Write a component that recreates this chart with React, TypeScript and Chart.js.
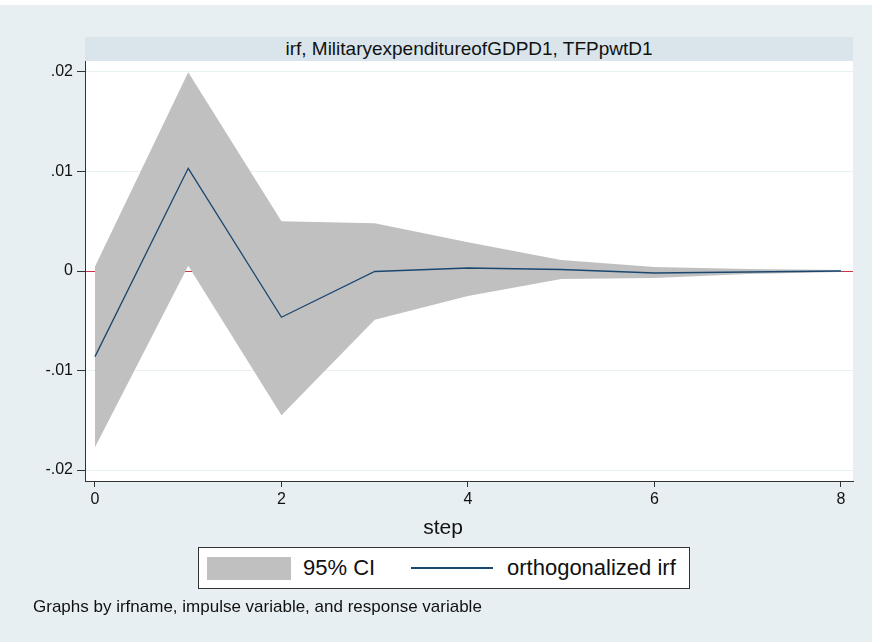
import React, { useEffect, useRef } from "react";
import { Chart, registerables } from "chart.js";

Chart.register(...registerables);

// ---- data ----
const steps = [0, 1, 2, 3, 4, 5, 6, 7, 8];
const irf = [-0.0086, 0.01032, -0.00465, -0.00005, 0.0003, 0.00015, -0.0002, -0.0001, 0.0];
const ciUpper = [0.00045, 0.01996, 0.0050, 0.0048, 0.0029, 0.0011, 0.0004, 0.0002, 0.0001];
const ciLower = [-0.01772, 0.00052, -0.0145, -0.0049, -0.0025, -0.0008, -0.0007, -0.0003, -0.0001];

const xTicks = [0, 2, 4, 6, 8];
const yTicks = [-0.02, -0.01, 0, 0.01, 0.02];
const yTickLabels = ["-.02", "-.01", "0", ".01", ".02"];

const panelTitle = "irf, MilitaryexpenditureofGDPD1, TFPpwtD1";
const xTitle = "step";
const legendCI = "95% CI";
const legendIrf = "orthogonalized irf";
const note = "Graphs by irfname, impulse variable, and response variable";

const FONT = "'Liberation Sans', Arial, Helvetica, sans-serif";
const BG = "#e8eff2";
const BAND = "#d9e5eb";
const CI_COLOR = "#c0c0c0";
const LINE_COLOR = "#1a476f";
const ZERO_COLOR = "#c8324b";
const GRID_COLOR = "#e8f1f2";
const AXIS_COLOR = "#333333";

const plotBg = {
  id: "plotBg",
  beforeDraw(chart: any) {
    const { ctx, chartArea } = chart;
    if (!chartArea) return;
    ctx.save();
    ctx.fillStyle = "#ffffff";
    ctx.fillRect(chartArea.left, chartArea.top, chartArea.right - chartArea.left, chartArea.bottom - chartArea.top);
    ctx.restore();
  },
};

export default function App() {
  const canvasRef = useRef<HTMLCanvasElement | null>(null);

  useEffect(() => {
    const canvas = canvasRef.current;
    if (!canvas) return;
    const chart = new Chart(canvas, {
      type: "line",
      data: {
        datasets: [
          {
            label: legendCI,
            data: steps.map((s, i) => ({ x: s, y: ciUpper[i] })),
            fill: "+1",
            backgroundColor: CI_COLOR,
            borderColor: "rgba(0,0,0,0)",
            borderWidth: 0,
            pointRadius: 0,
            tension: 0,
            order: 2,
          },
          {
            label: legendCI + " lower",
            data: steps.map((s, i) => ({ x: s, y: ciLower[i] })),
            fill: false,
            backgroundColor: CI_COLOR,
            borderColor: "rgba(0,0,0,0)",
            borderWidth: 0,
            pointRadius: 0,
            tension: 0,
            order: 2,
          },
          {
            label: legendIrf,
            data: steps.map((s, i) => ({ x: s, y: irf[i] })),
            fill: false,
            borderColor: LINE_COLOR,
            borderWidth: 1.3,
            pointRadius: 0,
            tension: 0,
            order: 1,
          },
        ],
      },
      options: {
        animation: false,
        responsive: false,
        maintainAspectRatio: false,
        layout: { padding: { left: 0, top: 61, right: 19, bottom: 101 } },
        plugins: {
          legend: { display: false },
          tooltip: { enabled: false },
          title: { display: false },
        },
        scales: {
          x: {
            type: "linear",
            min: -0.107,
            max: 8.129,
            afterBuildTicks: (scale: any) => {
              scale.ticks = xTicks.map((v) => ({ value: v }));
            },
            afterFit: (scale: any) => {
              scale.height = 60;
            },
            ticks: {
              color: "#111",
              font: { family: FONT, size: 16 },
              padding: 3,
              maxRotation: 0,
              autoSkip: false,
              callback: (v: any) => String(v),
            },
            grid: {
              drawOnChartArea: false,
              drawTicks: true,
              tickLength: 6,
              color: AXIS_COLOR,
              tickColor: AXIS_COLOR,
            },
            border: { display: true, color: AXIS_COLOR, width: 1 },
            title: { display: false, text: xTitle },
          },
          y: {
            type: "linear",
            min: -0.0211,
            max: 0.0211,
            afterBuildTicks: (scale: any) => {
              scale.ticks = yTicks.map((v) => ({ value: v }));
            },
            afterFit: (scale: any) => {
              scale.width = 85;
            },
            ticks: {
              color: "#111",
              font: { family: FONT, size: 16 },
              padding: 4,
              autoSkip: false,
              callback: (v: any) => {
                const idx = yTicks.findIndex((t) => Math.abs(t - Number(v)) < 1e-9);
                return idx >= 0 ? yTickLabels[idx] : "";
              },
            },
            grid: {
              drawOnChartArea: true,
              drawTicks: true,
              tickLength: 8,
              color: (ctx: any) =>
                ctx.tick && Math.abs(ctx.tick.value) < 1e-12 ? ZERO_COLOR : GRID_COLOR,
              tickColor: AXIS_COLOR,
              lineWidth: 1,
            },
            border: { display: true, color: AXIS_COLOR, width: 1 },
          },
        },
      },
      plugins: [plotBg],
    } as any);
    return () => chart.destroy();
  }, []);

  return (
    <div
      style={{
        position: "absolute",
        left: 0,
        top: 0,
        width: 872,
        height: 642,
        background: "#ffffff",
        fontFamily: FONT,
        overflow: "hidden",
      }}
    >
      <div style={{ position: "absolute", left: 0, top: 5, width: 872, height: 637, background: BG }} />
      <div
        style={{
          position: "absolute",
          left: 85,
          top: 37,
          width: 768,
          height: 24,
          background: BAND,
          color: "#111",
          fontSize: 19,
          lineHeight: "24px",
          textAlign: "center",
          whiteSpace: "nowrap",
        }}
      >
        {panelTitle}
      </div>
      <canvas
        ref={canvasRef}
        width={872}
        height={642}
        style={{ position: "absolute", left: 0, top: 0, width: 872, height: 642 }}
      />
      <div
        style={{
          position: "absolute",
          left: 0,
          top: 514,
          width: 886,
          textAlign: "center",
          fontSize: 21,
          lineHeight: "26px",
          color: "#111",
        }}
      >
        {xTitle}
      </div>
      <div
        style={{
          position: "absolute",
          left: 198,
          top: 547,
          width: 490,
          height: 40,
          background: "#ffffff",
          border: "1px solid #333",
        }}
      >
        <div style={{ position: "absolute", left: 8, top: 9, width: 84, height: 23, background: CI_COLOR }} />
        <div
          style={{
            position: "absolute",
            left: 104,
            top: 0,
            height: 40,
            lineHeight: "40px",
            fontSize: 22,
            color: "#111",
            whiteSpace: "nowrap",
          }}
        >
          {legendCI}
        </div>
        <div style={{ position: "absolute", left: 212, top: 19, width: 82, height: 2, background: LINE_COLOR }} />
        <div
          style={{
            position: "absolute",
            left: 308,
            top: 0,
            height: 40,
            lineHeight: "40px",
            fontSize: 22,
            color: "#111",
            whiteSpace: "nowrap",
          }}
        >
          {legendIrf}
        </div>
      </div>
      <div
        style={{
          position: "absolute",
          left: 33,
          top: 597,
          fontSize: 17,
          lineHeight: "20px",
          color: "#111",
          whiteSpace: "nowrap",
        }}
      >
        {note}
      </div>
    </div>
  );
}
